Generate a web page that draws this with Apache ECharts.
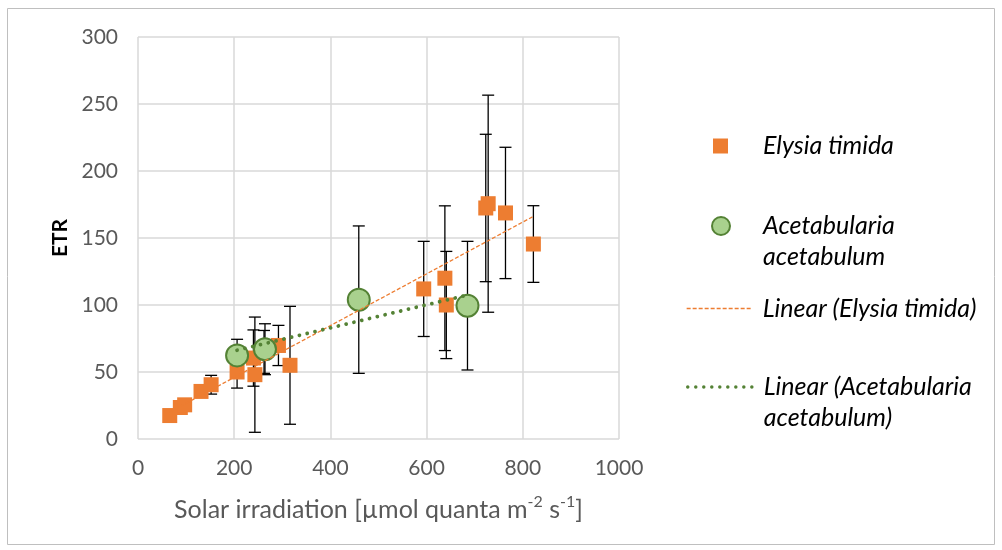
<!DOCTYPE html>
<html>
<head>
<meta charset="utf-8">
<script src="https://cdn.jsdelivr.net/npm/echarts@6/dist/echarts.min.js"></script>
<style>html,body{margin:0;padding:0;background:#fff;}#c{width:1002px;height:550px;}</style>
</head>
<body>
<div id="c"></div>
<script>
// ---- data ----
const elysiaX   = [66, 88, 97, 131, 152, 206, 240, 243, 262, 292, 316, 594, 638, 641, 723, 728, 764, 822];
const elysiaY   = [17.5, 23.5, 25.5, 35.5, 40.5, 50, 60.4, 48, 65, 69.8, 55, 112, 120, 100, 172.4, 175.6, 168.7, 145.5];
const elysiaErr = [2, 2, 2, 3, 7, 12, 21, 43, 16, 15, 44, 35.5, 54, 40, 55, 81, 49, 28.6];

const acetX   = [206, 264, 459, 685];
const acetY   = [62.4, 67, 104, 99.5];
const acetErr = [12, 19, 55, 48];

const xTicks = [0, 200, 400, 600, 800, 1000];
const yTicks = [0, 50, 100, 150, 200, 250, 300];

const nameE = 'Elysia timida';
const nameA = 'Acetabularia\nacetabulum';
const nameLE = 'Linear (Elysia timida)';
const nameLA = 'Linear (Acetabularia\nacetabulum)';

// ---- helpers ----
function zip(xs, ys, es) { return xs.map((x, i) => es ? [x, ys[i], es[i]] : [x, ys[i]]); }
function linFit(xs, ys) {
  const n = xs.length;
  const mx = xs.reduce((a, b) => a + b, 0) / n;
  const my = ys.reduce((a, b) => a + b, 0) / n;
  let sxy = 0, sxx = 0;
  for (let i = 0; i < n; i++) { sxy += (xs[i] - mx) * (ys[i] - my); sxx += (xs[i] - mx) ** 2; }
  const b = sxy / sxx, a = my - b * mx;
  const x0 = Math.min(...xs), x1 = Math.max(...xs);
  return [[x0, a + b * x0], [x1, a + b * x1]];
}
function errRender(params, api) {
  const x = api.value(0), y = api.value(1), e = api.value(2);
  const t = api.coord([x, y + e]), b = api.coord([x, y - e]);
  const w = 6;
  const st = { stroke: '#000', lineWidth: 1.3 };
  return { type: 'group', children: [
    { type: 'line', shape: { x1: t[0], y1: t[1], x2: b[0], y2: b[1] }, style: st },
    { type: 'line', shape: { x1: t[0] - w, y1: t[1], x2: t[0] + w, y2: t[1] }, style: st },
    { type: 'line', shape: { x1: b[0] - w, y1: b[1], x2: b[0] + w, y2: b[1] }, style: st }
  ]};
}

const FONT = 'Lato, "Open Sans", sans-serif';
const legText = () => ({ fontFamily: FONT, fontStyle: 'italic', fontSize: 25, color: '#000', lineHeight: 31 });
const legFmt = n => n.indexOf('\n') >= 0 ? '\n' + n : n;
const hideSym = { color: 'rgba(0,0,0,0)', borderColor: 'rgba(0,0,0,0)', borderWidth: 0, opacity: 0 };

const chart = echarts.init(document.getElementById('c'), null, { renderer: 'canvas' });
chart.setOption({
  animation: false,
  backgroundColor: '#fff',
  graphic: [{ type: 'rect', shape: { x: 7.5, y: 8.5, width: 987, height: 536 }, style: { fill: 'none', stroke: '#BFBFBF', lineWidth: 1 }, z: -10 }],
  grid: { left: 138, right: 383, top: 37, bottom: 111 },
  xAxis: {
    type: 'value', min: 0, max: 1000, interval: 200,
    axisLine: { show: false }, axisTick: { show: false },
    splitLine: { lineStyle: { color: '#D9D9D9', width: 1.5 } },
    axisLabel: { color: '#595959', fontSize: 21, fontFamily: FONT, margin: 19,
      formatter: v => xTicks.includes(v) ? String(v) : '' },
    name: '{a|Solar irradiation [µmol quanta m}{s|-2}{a| s}{s|-1}{a|]}',
    nameLocation: 'middle', nameGap: 55,
    nameTextStyle: { rich: {
      a: { color: '#595959', fontSize: 25, fontFamily: FONT, lineHeight: 28, verticalAlign: 'bottom' },
      s: { color: '#595959', fontSize: 16, fontFamily: FONT, lineHeight: 28, verticalAlign: 'top', padding: [0, 0, 7, 0] }
    } }
  },
  yAxis: {
    type: 'value', min: 0, max: 300, interval: 50,
    axisLine: { show: false }, axisTick: { show: false },
    splitLine: { lineStyle: { color: '#D9D9D9', width: 1.5 } },
    axisLabel: { color: '#595959', fontSize: 21, fontFamily: FONT, margin: 20,
      formatter: v => yTicks.includes(v) ? String(v) : '' },
    name: 'ETR', nameLocation: 'middle', nameGap: 67, nameRotate: 90,
    nameTextStyle: { color: '#000', fontSize: 21, fontWeight: 'bold', fontFamily: FONT }
  },
  legend: [
    { data: [{ name: nameE, icon: 'rect' }], left: 713, top: 130.5, padding: 0, itemWidth: 15, itemHeight: 15,
      formatter: legFmt, textStyle: Object.assign(legText(), { padding: [0, 0, 0, 30] }) },
    { data: [{ name: nameA, icon: 'circle' }], left: 711, top: 179.5, padding: 0, itemWidth: 18, itemHeight: 18,
      formatter: legFmt, textStyle: Object.assign(legText(), { padding: [0, 0, 0, 28] }) },
    { data: [{ name: nameLE }], left: 686, top: 293, padding: 0, itemWidth: 66, itemHeight: 14,
      formatter: legFmt, itemStyle: hideSym,
      lineStyle: { color: '#ED7D31', width: 1.3, type: [4, 2] },
      textStyle: Object.assign(legText(), { padding: [0, 0, 0, 5] }) },
    { data: [{ name: nameLA }], left: 686, top: 340.5, padding: 0, itemWidth: 66, itemHeight: 14,
      formatter: legFmt, itemStyle: hideSym,
      lineStyle: { color: '#548235', width: 3.5, type: [0.01, 8], cap: 'round' },
      textStyle: Object.assign(legText(), { padding: [0, 0, 0, 5] }) }
  ],
  series: [
    { type: 'custom', name: 'errE', renderItem: errRender, data: zip(elysiaX, elysiaY, elysiaErr), z: 1, silent: true },
    { type: 'custom', name: 'errA', renderItem: errRender, data: zip(acetX, acetY, acetErr), z: 1, silent: true },
    { type: 'scatter', name: nameE, data: zip(elysiaX, elysiaY), symbol: 'rect', symbolSize: 15,
      itemStyle: { color: '#ED7D31', opacity: 1 }, z: 2 },
    { type: 'scatter', name: nameA, data: zip(acetX, acetY), symbol: 'circle', symbolSize: 22,
      itemStyle: { color: '#A9D18E', borderColor: '#548235', borderWidth: 2, opacity: 1 }, z: 3 },
    { type: 'line', name: nameLE, data: linFit(elysiaX, elysiaY), symbol: 'none', showSymbol: false,
      lineStyle: { color: '#ED7D31', width: 1.3, type: [4, 2] }, itemStyle: { color: '#ED7D31' }, z: 4 },
    { type: 'line', name: nameLA, data: linFit(acetX, acetY), symbol: 'none', showSymbol: false,
      lineStyle: { color: '#548235', width: 3.8, type: [0.01, 8], cap: 'round' }, itemStyle: { color: '#548235' }, z: 4 }
  ]
});
</script>
</body>
</html>
